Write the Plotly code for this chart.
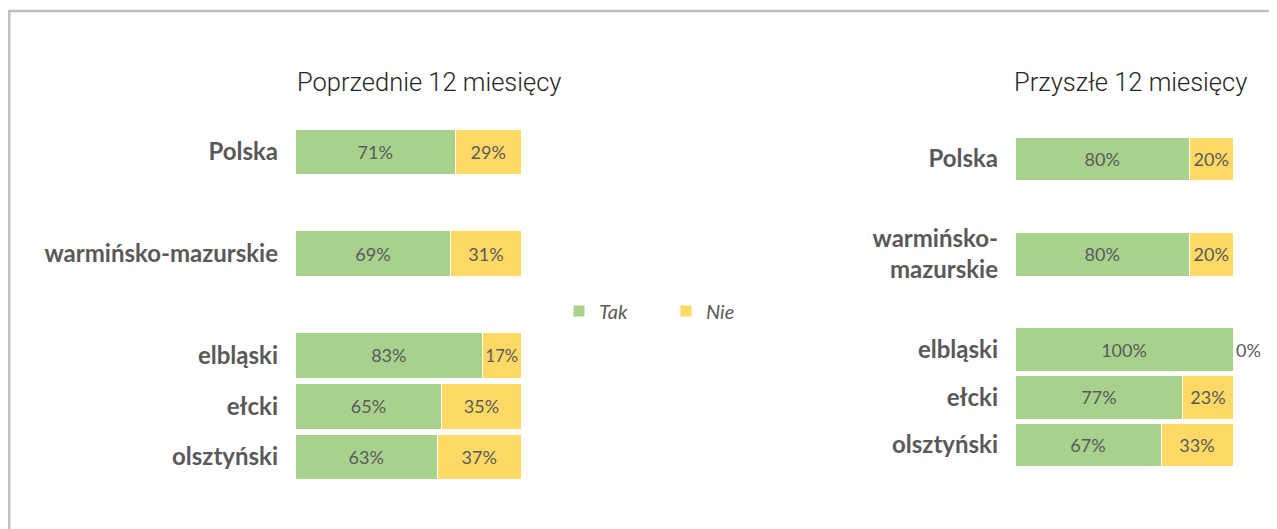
import plotly.graph_objects as go

categories = ["Polska", "warmińsko-mazurskie", "elbląski", "ełcki", "olsztyński"]
categories_right = ["Polska", "warmińsko-<br>mazurskie", "elbląski", "ełcki", "olsztyński"]
tak_prev = [71, 69, 83, 65, 63]
nie_prev = [29, 31, 17, 35, 37]
tak_next = [80, 80, 100, 77, 67]
nie_next = [20, 20, 0, 23, 33]
title_prev = "Poprzednie 12 miesięcy"
title_next = "Przyszłe 12 miesięcy"
series_names = ["Tak", "Nie"]

# layout-only: vertical slots for categories (gaps between groups)
slots = [0, 2, 4, 5, 6]

GREEN = "#A9D18E"
YELLOW = "#FFD966"
GRAY = "#595959"
W, H = 1277, 529
OFF = 8  # page body margin offset

fig = go.Figure()

def add_pair(tak, nie, xa, ya, width, show):
    fig.add_trace(go.Bar(
        y=slots, x=[v / 100 for v in tak], orientation="h", name=series_names[0],
        marker=dict(color=GREEN, line=dict(color="white", width=1)),
        text=[f"{v}%" for v in tak], textposition="inside", insidetextanchor="middle",
        textangle=0, textfont=dict(family="Lato", size=18, color=GRAY),
        width=width, xaxis=xa, yaxis=ya, showlegend=show, legendgroup="tak",
    ))
    fig.add_trace(go.Bar(
        y=slots, x=[v / 100 for v in nie], orientation="h", name=series_names[1],
        marker=dict(color=YELLOW, line=dict(color="white", width=1)),
        text=[f"{v}%" for v in nie],
        textposition=["inside" if v > 0 else "outside" for v in nie],
        insidetextanchor="middle", textangle=0,
        textfont=dict(family="Lato", size=18, color=GRAY),
        cliponaxis=False,
        width=width, xaxis=xa, yaxis=ya, showlegend=show, legendgroup="nie",
    ))

add_pair(tak_prev, nie_prev, "x", "y", 0.9, True)
add_pair(tak_next, nie_next, "x2", "y2", 0.92, False)

tickfont = dict(family="Lato", size=24, color=GRAY, weight="bold")
xcommon = dict(range=[0, 1], showgrid=False, zeroline=False, showticklabels=False, showline=False, fixedrange=True)

def px(v):
    return (v - OFF) / W

def py(v):
    return 1 - (v - OFF) / H

fig.update_layout(
    width=W, height=H, barmode="stack",
    margin=dict(l=0, r=0, t=0, b=0),
    paper_bgcolor="white", plot_bgcolor="white",
    xaxis=dict(domain=[px(295), px(521)], anchor="y", **xcommon),
    xaxis2=dict(domain=[px(1015), px(1233)], anchor="y2", **xcommon),
    yaxis=dict(domain=[py(507.8), py(101.2)], range=[7, -1], anchor="x",
               tickvals=slots, ticktext=categories, tickfont=tickfont,
               showgrid=False, zeroline=False, showline=False, ticks="",
               ticklabelstandoff=16),
    yaxis2=dict(domain=[py(492.7), py(111.3)], range=[7, -1], anchor="x2",
                tickvals=slots, ticktext=categories_right, tickfont=tickfont,
                showgrid=False, zeroline=False, showline=False, ticks="",
                ticklabelstandoff=16),
    legend=dict(orientation="h", x=px(559), y=py(311), xanchor="left", yanchor="middle",
                font=dict(family="Lato", size=20, color=GRAY, style="italic"),
                entrywidth=62, itemwidth=30, bgcolor="rgba(0,0,0,0)", traceorder="normal"),
    annotations=[
        dict(text=title_prev, x=px(429), y=py(82), xref="paper", yref="paper",
             showarrow=False, xanchor="center", yanchor="middle",
             font=dict(family="Roboto", size=25.5, color="#262626", weight=300)),
        dict(text=title_next, x=px(1130), y=py(82), xref="paper", yref="paper",
             showarrow=False, xanchor="center", yanchor="middle",
             font=dict(family="Roboto", size=25.5, color="#262626", weight=300)),
    ],
    shapes=[
        dict(type="line", xref="paper", yref="paper", x0=1.2 / W, x1=1.2 / W, y0=0, y1=py(11),
             line=dict(color="#BFBFBF", width=2.5)),
        dict(type="line", xref="paper", yref="paper", x0=0, x1=1, y0=py(11), y1=py(11),
             line=dict(color="#BFBFBF", width=2.5)),
    ],
)

fig.write_html("out.html")
